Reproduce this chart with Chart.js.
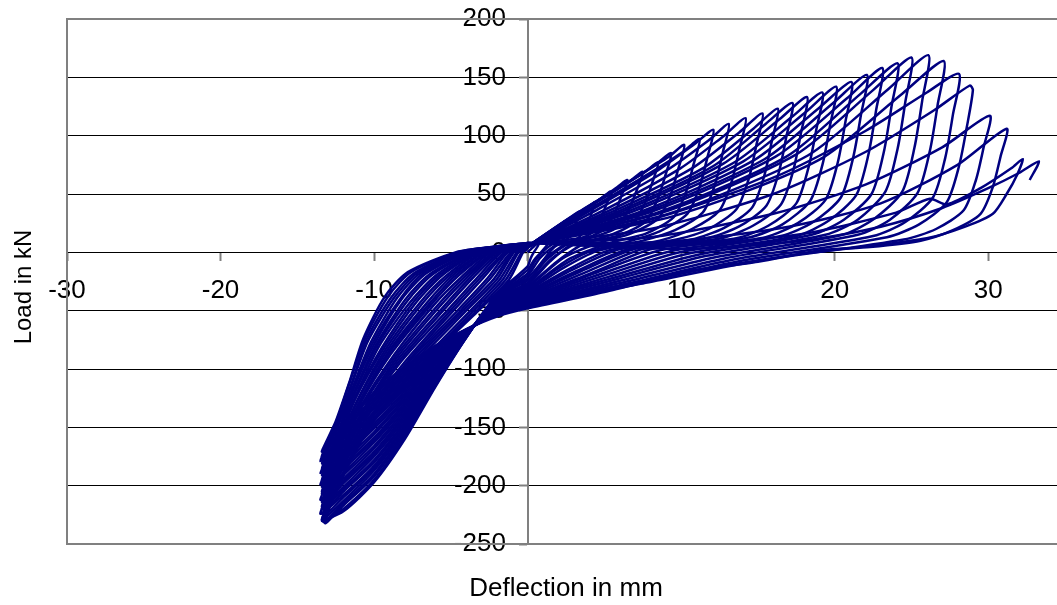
<!DOCTYPE html>
<html>
<head>
<meta charset="utf-8">
<script src="https://cdn.jsdelivr.net/npm/chart.js@4.4.1/dist/chart.umd.min.js"></script>
<style>
  html, body { margin: 0; padding: 0; background: #fff; overflow: hidden; }
  #wrap { position: relative; width: 1075px; height: 605px; }
</style>
</head>
<body>
<div id="wrap"><canvas id="myChart"></canvas></div>
<script>
// tick labels
const xTicks = [-30, -20, -10, 0, 10, 20, 30];
const yTicks = [200, 150, 100, 50, 0, -50, -100, -150, -200, -250];

// load cycles [deflection mm, load kN], one cycle at a time
const c01 = [[0,0],[0.4,5],[0.8,10],[0.65,5],[0.4,0],[0.2,-5],[0,-12],
  [-2,-36],[-4,-73],[-6,-115],[-8,-160],[-10,-197],[-12,-222],[-13.3,-228],
  [-12.2,-194],[-10.3,-148],[-7.0,-98],[-3.2,-50],[-1.2,-23],[-0.3,0],[-0.1,2],[0,4]];
const c02 = [[0,4],[0.6,9],[1.15,14],[1.6,18],[1.45,11],[1.2,5],[0.8,-1],[0.4,-7],[0,-15],
  [-2,-37],[-4,-73],[-6,-114],[-8,-158],[-10,-195],[-12,-220],[-13.4,-230],
  [-12.2,-196],[-10.3,-150],[-7.1,-99],[-3.4,-51],[-1.4,-23],[-0.4,0],[-0.2,2],[0,4]];
const c03 = [[0,4],[0.9,12],[1.75,20],[2.25,25],[2.5,27],[2.35,20],[2.1,14],[1.7,8],[1.1,2],[0.5,-7],[0,-18],
  [-2,-37],[-4,-73],[-6,-113],[-8,-156],[-10,-192],[-12,-217],[-13.2,-232],
  [-12.2,-197],[-10.4,-151],[-7.2,-100],[-3.6,-51],[-1.6,-23],[-0.6,0],[-0.3,2],[0,4]];
const c04 = [[0,4],[1.2,15],[2.4,25],[3.05,32],[3.4,35],[3.2,27],[2.95,19],[2.55,11],[1.7,5],[0.8,-5],[0,-20],
  [-2,-38],[-4,-72],[-6,-112],[-8,-154],[-10,-190],[-12,-215],[-13.3,-231],
  [-12.2,-196],[-10.4,-150],[-7.3,-99],[-3.8,-51],[-1.8,-23],[-0.7,0],[-0.3,2],[0,4]];
const c05 = [[0,4],[1.55,18],[3.1,31],[3.95,39],[4.4,43],[4.15,33],[3.85,23],[3.35,13],[2.2,5],[1.1,-6],[0,-22],
  [-2,-38],[-4,-72],[-6,-111],[-8,-152],[-10,-187],[-12,-213],[-13.4,-229],
  [-12.2,-195],[-10.5,-149],[-7.5,-98],[-4.0,-50],[-2.0,-23],[-0.9,0],[-0.4,2],[0,4]];
const c06 = [[0,4],[1.9,21],[3.8,37],[4.85,47],[5.4,52],[5.1,40],[4.7,28],[4.1,16],[2.7,8],[1.35,-5],[0,-24],
  [-2,-39],[-4,-72],[-6,-110],[-8,-150],[-10,-185],[-12,-210],[-13.3,-226],
  [-12.3,-192],[-10.5,-147],[-7.6,-97],[-4.2,-50],[-2.2,-23],[-1.0,0],[-0.5,2],[0,4]];
const c07 = [[0,4],[2.3,25],[4.55,44],[5.85,56],[6.5,62],[6.1,48],[5.65,33],[4.9,19],[3.3,9],[1.6,-5],[0,-26],
  [-2,-40],[-4,-72],[-6,-108],[-8,-148],[-10,-183],[-12,-208],[-13.5,-224],
  [-12.3,-190],[-10.5,-146],[-7.7,-96],[-4.3,-49],[-2.4,-22],[-1.1,0],[-0.5,3],[0,5]];
const c08 = [[0,5],[2.6,28],[5.25,49],[6.75,62],[7.5,69],[7.1,53],[6.6,37],[5.8,21],[4.0,12],[1.9,6],[0.95,-8],[0,-27],
  [-2,-40],[-4,-71],[-6,-107],[-8,-146],[-10,-180],[-12,-205],[-13.3,-222],
  [-12.3,-189],[-10.6,-144],[-7.8,-95],[-4.5,-49],[-2.6,-22],[-1.3,0],[-0.6,3],[0,5]];
const c09 = [[0,5],[2.95,31],[5.95,55],[7.65,69],[8.5,77],[8.1,59],[7.6,41],[6.8,24],[5.0,13],[2.9,7],[1.45,-8],[0,-28],
  [-2,-41],[-4,-71],[-6,-106],[-8,-145],[-10,-178],[-12,-203],[-13.4,-220],
  [-12.3,-187],[-10.6,-143],[-7.9,-95],[-4.7,-48],[-2.9,-22],[-1.4,0],[-0.6,3],[0,5]];
const c10 = [[0,5],[3.25,34],[6.55,60],[8.4,76],[9.35,85],[8.95,65],[8.45,45],[7.65,26],[5.85,14],[3.75,8],[1.9,-8],[0,-29],
  [-2,-41],[-4,-71],[-6,-105],[-8,-143],[-10,-175],[-12,-201],[-13.4,-218],
  [-12.3,-185],[-10.7,-142],[-8.0,-94],[-4.9,-48],[-3.1,-22],[-1.5,0],[-0.7,3],[0,5]];
const c11 = [[0,5],[3.55,36],[7.15,65],[9.2,82],[10.2,92],[9.8,71],[9.3,49],[8.5,29],[6.7,16],[4.6,8],[2.3,-5],[0,-30],
  [-2,-42],[-4,-71],[-6,-104],[-8,-141],[-10,-173],[-12,-198],[-13.3,-216],
  [-12.3,-184],[-10.7,-140],[-8.2,-93],[-5.1,-48],[-3.3,-22],[-1.7,0],[-0.8,3],[0,5]];
const c12 = [[0,5],[3.9,36],[7.85,67],[10.1,86],[11.2,97],[10.8,75],[10.3,51],[9.5,30],[7.7,16],[5.6,9],[2.8,-5],[0,-31],
  [-2,-43],[-4,-71],[-6,-103],[-8,-139],[-10,-171],[-12,-196],[-13.4,-214],
  [-12.3,-182],[-10.8,-139],[-8.3,-92],[-5.3,-47],[-3.5,-21],[-1.8,0],[-0.8,3],[0,5]];
const c13 = [[0,5],[4.25,37],[8.45,70],[10.9,93],[12.1,105],[11.7,81],[11.2,56],[10.4,33],[8.6,18],[6.5,9],[3.9,0],[1.95,-14],[0,-32],
  [-2,-43],[-4,-70],[-6,-102],[-8,-137],[-10,-168],[-12,-194],[-13.5,-212],
  [-12.3,-180],[-10.8,-138],[-8.4,-91],[-5.5,-47],[-3.7,-21],[-2.0,0],[-0.9,3],[0,5]];
const c14 = [[0,5],[4.6,37],[9.15,71],[11.8,96],[13.1,110],[12.7,85],[12.2,58],[11.4,34],[9.6,19],[7.5,10],[4.5,1],[2.25,-14],[0,-33],
  [-2,-44],[-4,-70],[-6,-101],[-8,-135],[-10,-166],[-12,-191],[-13.3,-210],
  [-12.3,-179],[-10.8,-137],[-8.5,-90],[-5.7,-46],[-3.9,-21],[-2.1,0],[-0.9,3],[0,5]];
const c15 = [[0,5],[4.95,36],[9.95,72],[12.8,100],[14.2,115],[13.8,89],[13.3,61],[12.5,36],[10.7,20],[8.6,10],[5.15,1],[2.6,-15],[0,-34],
  [-2,-44],[-4,-70],[-6,-100],[-8,-133],[-10,-163],[-12,-189],[-13.4,-207],
  [-12.3,-176],[-10.9,-135],[-8.6,-89],[-5.9,-46],[-4.1,-21],[-2.2,0],[-1.0,3],[0,5]];
const c16 = [[0,5],[5.35,36],[10.7,72],[13.8,103],[15.3,119],[14.9,92],[14.4,63],[13.6,37],[11.8,20],[9.7,11],[5.8,2],[2.9,-15],[0,-35],
  [-2,-45],[-4,-70],[-6,-99],[-8,-131],[-10,-161],[-12,-186],[-13.4,-205],
  [-12.3,-174],[-10.9,-133],[-8.7,-88],[-6.1,-45],[-4.3,-21],[-2.4,0],[-1.1,3],[0,5]];
const c17 = [[0,5],[5.7,36],[11.4,72],[14.7,106],[16.3,123],[15.9,95],[15.4,65],[14.6,38],[12.8,21],[10.7,11],[6.4,2],[3.2,-16],[0,-36],
  [-2,-46],[-4,-70],[-6,-98],[-8,-129],[-10,-159],[-12,-184],[-13.3,-203],
  [-12.4,-173],[-11.0,-132],[-8.9,-87],[-6.3,-45],[-4.5,-20],[-2.5,0],[-1.1,3],[0,5]];
const c18 = [[0,5],[6.05,36],[12.1,74],[15.5,110],[17.25,128],[16.85,99],[16.35,68],[15.55,40],[13.75,22],[11.65,12],[7.0,3],[3.5,-16],[0,-37],
  [-2,-46],[-4,-69],[-6,-96],[-8,-127],[-10,-156],[-12,-182],[-13.4,-201],
  [-12.4,-171],[-11.0,-131],[-9.0,-86],[-6.4,-44],[-4.7,-20],[-2.6,0],[-1.2,4],[0,6]];
const c19 = [[0,6],[6.35,36],[12.75,76],[16.4,114],[18.2,133],[17.8,102],[17.3,70],[16.5,41],[14.7,23],[12.6,12],[7.55,3],[3.8,-17],[0,-38],
  [-2,-47],[-4,-69],[-6,-95],[-8,-125],[-10,-154],[-12,-179],[-13.5,-199],
  [-12.4,-169],[-11.0,-129],[-9.1,-86],[-6.6,-44],[-4.9,-20],[-2.8,0],[-1.3,4],[0,6]];
const c20 = [[0,6],[6.7,36],[13.45,77],[17.3,117],[19.2,137],[18.8,105],[18.3,73],[17.5,42],[15.7,23],[13.6,12],[8.15,3],[4.1,-18],[0,-39],
  [-2,-47],[-4,-69],[-6,-94],[-8,-123],[-10,-151],[-12,-177],[-13.3,-197],
  [-12.4,-167],[-11.1,-128],[-9.2,-85],[-6.8,-43],[-5.1,-20],[-2.9,0],[-1.3,4],[0,6]];
const c21 = [[0,6],[7.05,36],[14.05,78],[18.1,120],[20.1,142],[19.7,109],[19.2,75],[18.4,44],[16.6,24],[14.5,13],[8.7,2],[4.35,-18],[0,-40],
  [-2,-48],[-4,-69],[-6,-93],[-8,-121],[-10,-149],[-12,-175],[-13.4,-195],
  [-12.4,-166],[-11.1,-127],[-9.3,-84],[-7.0,-43],[-5.3,-20],[-3.1,0],[-1.4,4],[0,6]];
const c22 = [[0,6],[7.4,35],[14.75,79],[19.0,124],[21.1,146],[20.7,112],[20.2,77],[19.4,45],[17.6,25],[15.5,13],[9.3,1],[4.65,-19],[0,-40],
  [-2,-48],[-4,-68],[-6,-92],[-8,-119],[-10,-147],[-12,-172],[-13.3,-193],
  [-12.4,-164],[-11.2,-125],[-9.4,-83],[-7.2,-42],[-5.5,-19],[-3.2,0],[-1.4,4],[0,6]];
const c23 = [[0,6],[7.75,35],[15.45,80],[19.9,128],[22.1,152],[21.7,117],[21.2,81],[20.4,47],[18.6,26],[16.5,14],[9.9,0],[4.95,-20],[0,-41],
  [-2,-49],[-4,-68],[-6,-91],[-8,-117],[-10,-144],[-12,-170],[-13.4,-191],
  [-12.4,-162],[-11.2,-124],[-9.5,-82],[-7.4,-42],[-5.7,-19],[-3.3,0],[-1.5,4],[0,6]];
const c24 = [[0,6],[8.1,35],[16.15,82],[20.8,132],[23.1,158],[22.7,122],[22.2,84],[21.4,49],[19.6,27],[17.5,14],[10.5,-1],[5.25,-21],[0,-42],
  [-2,-50],[-4,-68],[-6,-90],[-8,-115],[-10,-142],[-12,-167],[-13.5,-189],
  [-12.4,-161],[-11.2,-123],[-9.7,-81],[-7.6,-42],[-5.9,-19],[-3.5,0],[-1.6,4],[0,6]];
const c25 = [[0,6],[8.45,34],[16.85,82],[21.7,136],[24.1,162],[23.7,125],[23.2,86],[22.4,50],[20.6,28],[18.5,15],[11.1,-2],[5.55,-22],[0,-42],
  [-2,-50],[-4,-68],[-6,-89],[-8,-114],[-10,-139],[-12,-165],[-13.3,-187],
  [-12.4,-159],[-11.3,-122],[-9.8,-80],[-7.8,-41],[-6.2,-19],[-3.6,0],[-1.6,4],[0,7]];
const c26 = [[0,7],[8.75,34],[17.5,84],[22.5,139],[25.0,167],[24.6,129],[24.1,89],[23.3,52],[21.5,28],[19.4,15],[11.65,-3],[5.8,-23],[0,-43],
  [-2,-51],[-4,-68],[-6,-88],[-8,-112],[-10,-137],[-12,-163],[-13.4,-185],
  [-12.4,-157],[-11.3,-120],[-9.9,-80],[-8.0,-41],[-6.4,-19],[-3.7,0],[-1.7,4],[0,7]];
const c27 = [[0,7],[9.15,33],[18.25,83],[23.5,140],[26.1,169],[25.7,130],[25.2,90],[24.4,52],[22.6,29],[20.5,15],[12.3,-4],[6.15,-24],[0,-44],
  [-2,-51],[-4,-67],[-6,-87],[-8,-110],[-10,-134],[-12,-160],[-13.3,-183],
  [-12.4,-156],[-11.4,-119],[-10.0,-79],[-8.2,-40],[-6.6,-18],[-3.9,0],[-1.8,4],[0,7]];
const c28 = [[0,7],[9.5,31],[18.95,79],[24.4,136],[27.1,164],[26.7,126],[26.2,87],[25.4,51],[23.6,28],[21.5,15],[12.9,-5],[6.45,-25],[0,-44],
  [-2,-52],[-4,-67],[-6,-86],[-8,-108],[-10,-132],[-12,-158],[-13.4,-181],
  [-12.5,-154],[-11.4,-118],[-10.1,-78],[-8.3,-40],[-6.8,-18],[-4.0,0],[-1.8,4],[0,7]];
const c29 = [[0,7],[8,28],[16,64],[22,104],[26,137],[28.1,153],[27.7,118],[27.2,81],[26.4,47],[24.6,26],[22.5,14],[13.5,-6],[6.75,-26],[0,-45],
  [-2,-53],[-4,-67],[-6,-84],[-8,-106],[-10,-130],[-12,-156],[-13.5,-179],
  [-12.5,-152],[-11.4,-116],[-10.2,-77],[-8.5,-39],[-7.0,-18],[-4.1,0],[-1.8,4],[0,7]];
const c30 = [[0,7],[8,20],[16,50],[22,86],[26.5,122],[28.8,143],[29.0,139],[28.6,107],[28.1,74],[27.3,43],[25.5,24],[23.4,13],[14,-7],[7,-27],[0,-46],
  [-2,-53],[-4,-67],[-6,-83],[-8,-104],[-10,-127],[-12,-153],[-13.3,-177],
  [-12.5,-150],[-11.5,-115],[-10.4,-76],[-8.7,-39],[-7.2,-18],[-4.3,0],[-1.9,5],[0,8]];
const c31 = [[0,8],[8,13],[16,33],[22,58],[27,90],[30.1,117],[29.7,90],[29.2,62],[28.4,36],[26.6,20],[24.5,11],[14.7,-8],[7.35,-27],[0,-46],
  [-2,-54],[-4,-66],[-6,-82],[-8,-102],[-10,-125],[-12,-151],[-13.4,-175],
  [-12.5,-149],[-11.5,-114],[-10.5,-75],[-8.9,-39],[-7.4,-18],[-4.4,0],[-2.0,5],[0,8]];
const c32 = [[0,8],[9,9],[17,22],[23,42],[28,75],[31.2,106],[30.8,82],[30.3,56],[29.5,33],[27.7,19],[25.6,10],[22.3,4.6],[19.1,1.7],[15,-8],[10,-17],[5,-33],[0,-47],
  [-2,-54],[-4,-66],[-6,-81],[-8,-100],[-10,-122],[-12,-148],[-13.3,-173],
  [-12.5,-147],[-11.6,-112],[-10.6,-74],[-9.1,-38],[-7.6,-17],[-4.6,0],[-2.1,5],[0,8]];
const c33 = [[0,8],[10,6],[18,16],[24,34],[26.2,46],[27.3,41],[29.5,55],[31.5,72],[32.25,80],[31.9,67],[31.2,50],[30.3,33],[28.5,22],[26,12],[22,5],[18,-1],[14,-9],[10,-18],[5,-34],[0,-48],
  [-2,-55],[-4,-66],[-6,-80],[-8,-98],[-10,-120],[-12,-146],[-13.4,-171],
  [-12.5,-145],[-11.6,-111],[-10.7,-74],[-9.3,-38],[-7.8,-17],[-4.7,0],[-2.1,5],[0,8]];
const c34 = [[0,8],[10,3],[18,10],[23,22],[27,38],[30,55],[32,68],[33.3,78],[32.7,62]];

const cycles = [c01, c02, c03, c04, c05, c06, c07, c08, c09, c10, c11, c12, c13, c14, c15, c16, c17,
  c18, c19, c20, c21, c22, c23, c24, c25, c26, c27, c28, c29, c30, c31, c32, c33, c34];

const FONT = '"Liberation Sans", Arial, sans-serif';

// plot frame and the two axis titles (Excel style)
const frame = {
  id: 'frame',
  beforeDatasetsDraw(chart) {
    const { ctx, chartArea: a } = chart;
    ctx.save();
    ctx.strokeStyle = '#808080';
    ctx.lineWidth = 2;
    ctx.strokeRect(a.left, a.top, a.right - a.left, a.bottom - a.top);
    ctx.restore();
  },
  afterDraw(chart) {
    const { ctx } = chart;
    ctx.save();
    ctx.fillStyle = '#000';
    ctx.textAlign = 'center';
    ctx.textBaseline = 'alphabetic';
    ctx.font = '26px ' + FONT;
    ctx.fillText('Deflection in mm', 566, 596);
    ctx.translate(31, 287);
    ctx.rotate(-Math.PI / 2);
    ctx.font = '24px ' + FONT;
    ctx.fillText('Load in kN', 0, 0);
    ctx.restore();
  }
};

new Chart(document.getElementById('myChart'), {
  type: 'scatter',
  data: {
    datasets: cycles.map(c => ({
      data: c.map(([x, y]) => ({ x, y })),
      showLine: true,
      fill: false,
      borderColor: '#000080',
      borderWidth: 2.5,
      pointRadius: 0,
      tension: 0.25
    }))
  },
  options: {
    responsive: true,
    maintainAspectRatio: false,
    animation: false,
    events: [],
    layout: { padding: { left: 67, top: 19, right: 10, bottom: 61 } },
    plugins: { legend: { display: false }, tooltip: { enabled: false } },
    scales: {
      x: {
        type: 'linear',
        min: -30,
        max: 35,
        position: { y: 0 },
        afterFit: s => { s.height = 0; },
        afterBuildTicks: s => { s.ticks = xTicks.map(v => ({ value: v })); },
        ticks: { color: '#000', padding: 15, font: { size: 26, family: FONT }, maxRotation: 0, autoSkip: false },
        grid: { drawOnChartArea: false, tickLength: 8, tickColor: '#808080', tickWidth: 2 },
        border: { color: '#000', width: 1 }
      },
      y: {
        type: 'linear',
        min: -250,
        max: 200,
        position: { x: 0 },
        afterFit: s => { s.width = 0; },
        afterBuildTicks: s => { s.ticks = yTicks.map(v => ({ value: v })); },
        ticks: { color: '#000', font: { size: 26, family: FONT }, autoSkip: false, callback: v => v + '   ' },
        grid: {
          color: c => (c.tick && (c.tick.value === 200 || c.tick.value === -250)) ? 'rgba(0,0,0,0)' : '#000',
          lineWidth: 1,
          tickLength: 8,
          tickColor: '#808080',
          tickWidth: 2
        },
        border: { color: '#808080', width: 2 }
      }
    }
  },
  plugins: [frame]
});
</script>
</body>
</html>
